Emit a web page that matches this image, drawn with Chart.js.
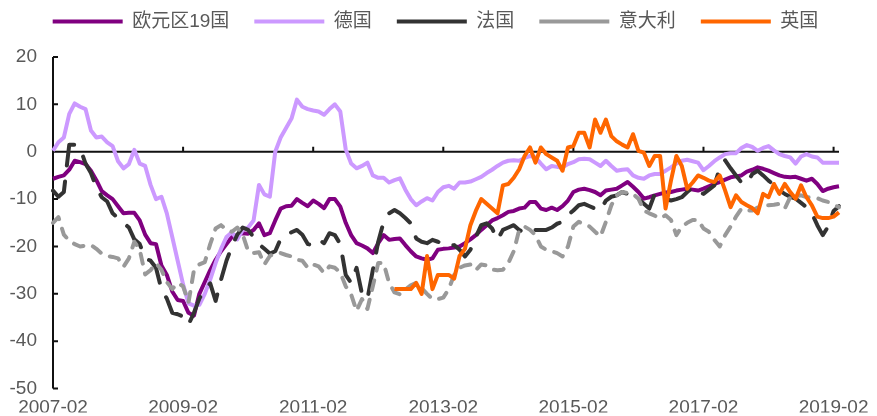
<!DOCTYPE html>
<html>
<head>
<meta charset="utf-8">
<script src="https://cdn.jsdelivr.net/npm/chart.js@4/dist/chart.umd.min.js"></script>
<style>
  html, body { margin: 0; padding: 0; background: #fff; }
  #wrap { width: 877px; height: 416px; }
</style>
</head>
<body>
<div id="wrap"><canvas id="chart"></canvas></div>
<script>
// 月份 2007-02 ~ 2019-03
const months = [];
for (let yr = 2007; yr <= 2019; yr++) {
  for (let m = 1; m <= 12; m++) {
    if ((yr === 2007 && m < 2) || (yr === 2019 && m > 3)) continue;
    months.push(yr + '-' + String(m).padStart(2, '0'));
  }
}

const tickLabels = ['2007-02', '2009-02', '2011-02', '2013-02', '2015-02', '2017-02', '2019-02'];
const yTicks = [20, 10, 0, -10, -20, -30, -40, -50];

const euro19 = [
  -5.7, -5.3, -5, -3.8, -1.9, -2.2, -2.6, -4, -6, -8.3,
  -9.2, -10, -11.5, -13, -12.9, -12.9, -14.5, -17.5, -19.3, -19.5,
  -24, -26, -29.5, -31.3, -31.5, -34, -34.6, -30, -27.5, -25,
  -22.8, -21, -19.5, -18, -17.6, -17.2, -17.3, -16.5, -15.1, -17.6,
  -17.2, -14.5, -12, -11.5, -11.4, -10, -10.8, -11.5, -10.3, -11,
  -11.9, -10, -10, -11.6, -15, -17.6, -19.3, -19.8, -20.4, -21.4,
  -19.3, -17.6, -18.6, -18.4, -18.3, -19.7, -21, -22.1, -22.5, -22.8,
  -22.5, -20.7, -20.5, -20.4, -20.2, -20, -19.3, -18.5, -17.6, -16.5,
  -15.5, -14.5, -14, -13.4, -12.7, -12.5, -12, -11.8, -10.6, -10.6,
  -12, -12.3, -11.8, -12.3, -11.5, -10.3, -8.5, -8, -7.8, -8.1,
  -8.5, -9.2, -8.2, -8, -7.8, -7.1, -6.4, -7.4, -8.5, -9.9,
  -9.6, -9.2, -8.9, -8.6, -8.5, -8.2, -8, -7.8, -8, -8.2,
  -7.8, -7.3, -6.8, -6.4, -5.9, -5.4, -5.2, -5, -4.2, -3.8,
  -3.3, -3.6, -4, -4.5, -5, -5.3, -5.4, -5.3, -5.7, -6.1,
  -5.7, -6.8, -8.3, -7.8, -7.5, -7.3
];

const germany = [
  0.2, 2, 3, 8, 10.2, 9.5, 9, 4.5, 3, 3.2,
  2, 1.2, -2, -3.5, -2.6, 0.4, -2.5, -3, -7, -10,
  -9.5, -13, -18, -23, -28, -32, -32.5, -32.3, -30, -27,
  -23.5, -20.5, -18, -17, -18.5, -16.5, -16, -14.5, -7, -9,
  -9.5, 0, 3, 5, 7, 11, 9.5, 9, 8.7, 8.5,
  7.8, 9, 10, 8.5, 0.5, -2.5, -3.5, -3, -2.3, -5,
  -5.5, -5.5, -6.5, -6, -5.6, -8, -10, -11.3, -10.5, -9.8,
  -10.3, -8.5, -7.5, -7.2, -7.8, -6.5, -6.5, -6.3, -5.8, -5.3,
  -4.5, -3.8, -3, -2.3, -1.9, -1.8, -1.9, -1.3, -0.9, -1.2,
  -2.5, -3.7, -3, -3.2, -3.3, -2.6, -2.2, -1.6, -1.5, -1.6,
  -2.3, -3, -1.9, -3, -4, -3.8, -3.7, -5, -5.5, -5.7,
  -5, -4.7, -4.7, -4, -3.3, -2.5, -1.9, -1.7, -2, -2.3,
  -3.9, -3, -2, -1.2, -0.5, -0.3, -0.3, 0.8, 1.4, 1,
  0.2, 0.8, 1.2, 0.3, -0.5, -0.9, -1.2, -2.5, -1, -0.5,
  -1, -1.2, -2.3, -2.3, -2.3, -2.3
];

const france = [
  -8.2, -9.5, -8.5, 1.5, 1.5, 0.8, -2.5, -4.5, -7.5, -9.6,
  -10.5, -13, -14, -15, -16, -18.5, -19.5, -22.5, -23, -24.5,
  -29, -31, -34, -34.3, -34.8, -36.5, -34, -31, -29, -27.8,
  -31.5, -27, -23, -20, -17.5, -16, -16.5, -18, -19.5, -20.5,
  -21.5, -21, -18.4, -17.6, -17, -16.5, -17.5, -19.5, -19.7, -18.6,
  -19.3, -17.2, -17.6, -19.5, -26, -27.7, -24.5, -30, -31.1, -25,
  -19, -14.8, -13, -12.3, -13, -14, -15.1, -18.3, -19, -19.3,
  -18.6, -19, -19.5, -20, -19.7, -20.7, -22.1, -20.7, -18, -15.5,
  -15.1, -16.2, -18.6, -16.5, -16, -15.5, -16.5, -17.2, -16.8, -16.5,
  -16.5, -16.5, -16, -15.2, -14.8, -13.4, -12.4, -11.3, -11, -11.5,
  -12, -12.4, -10.3, -9.5, -9.2, -8.5, -8.9, -8.9, -10, -11,
  -12, -8.9, -9.2, -10, -10.3, -10, -9.6, -8.5, -7.5, -8.2,
  -8.9, -8, -7.1, -3.5, -1.8, -3.5, -5, -6.5, -6.8, -4.7,
  -4, -5, -6.1, -7, -8.2, -8.9, -9.5, -9.9, -10.8, -11.7,
  -13, -15.5, -17.6, -15.8, -12.5, -11.5
];

const italy = [
  -15, -13.8, -17.5, -18.8, -19.5, -20, -19.8, -19.7, -20.5, -21.5,
  -22, -22.2, -22.5, -24.3, -22.5, -19, -20.7, -25.9, -25, -23.5,
  -24.9, -27.5, -29, -27.7, -28.4, -31.8, -25, -23.8, -23.3, -19.5,
  -16.2, -15.5, -16.5, -16.9, -16, -17.5, -21, -21.4, -21.2, -23.8,
  -22, -21.4, -21.4, -21.8, -22.1, -22.8, -23, -24.5, -23.8, -24.2,
  -25.6, -24.2, -24.5, -25.5, -28.4, -30.1, -33.6, -31.1, -33.2, -28.4,
  -23.5, -23.5, -27.7, -29.7, -30.1, -29.1, -28.2, -27.7, -28.8, -30,
  -31.1, -31.1, -30.8, -29, -26, -24.5, -24, -23.8, -25, -23.8,
  -24, -24.9, -25, -24.9, -23.5, -21, -16.5, -15.8, -16.5, -17.6,
  -20, -20.7, -21, -21.4, -22.1, -20, -15.8, -14.8, -15.3, -15.8,
  -16.9, -17.9, -14.8, -11.3, -9.2, -8.5, -8.7, -8.9, -9.9, -12.4,
  -13, -13.5, -14.1, -13.4, -14.4, -17.6, -15.8, -15, -14.4, -14.4,
  -16.2, -16.9, -18.6, -20, -17.6, -15.8, -13.7, -12, -12.4, -12.4,
  -11.8, -11.3, -11.3, -11.2, -11, -12, -9.6, -9.4, -9.2, -9.6,
  -9.6, -9.8, -10.3, -10.6, -11.2, -11.7
];

const uk = [
  null, null, null, null, null, null, null, null, null, null,
  null, null, null, null, null, null, null, null, null, null,
  null, null, null, null, null, null, null, null, null, null,
  null, null, null, null, null, null, null, null, null, null,
  null, null, null, null, null, null, null, null, null, null,
  null, null, null, null, null, null, null, null, null, null,
  null, null, null, -29, -29, -29, -29, -27.7, -30, -22,
  -29, -26, -26, -26, -26.8, -22, -20.5, -15.5, -12.5, -10,
  -11, -12, -13, -7.1, -6.8, -5.5, -3.7, -0.9, 0.9, -2.3,
  0.9, -0.5, -1.2, -1.9, -4, 0.9, 1.2, 4, 4, 0.9,
  6.8, 4, 6.8, 3.3, 2.2, 1.5, 0.9, 3.7, 0.2, -0.2,
  -3, -0.9, -0.9, -12, -6.1, -0.9, -3, -7.8, -6.5, -5,
  -5.5, -6.1, -6.4, -5, -8.2, -11.7, -9.2, -10.6, -11.3, -11.9,
  -13, -8.9, -9.6, -6.8, -8.9, -6.8, -8.5, -9.9, -7.1, -9.6,
  -11.3, -13.7, -14, -14, -13.7, -12.8
];

// 图例下方留白、居中；y轴、零轴和刻度线
const axisMarks = {
  id: 'axisMarks',
  afterInit(chart) {
    const fit = chart.legend.fit;
    chart.legend.fit = function () {
      fit.call(this);
      this.height += 16;
    };
  },
  afterLayout(chart) {
    chart.legend.left += 13;
    chart.legend.right += 13;
  },
  beforeDatasetsDraw(chart) {
    const ctx = chart.ctx;
    const area = chart.chartArea;
    const xs = chart.scales.x;
    const ys = chart.scales.y;
    const y0 = ys.getPixelForValue(0);
    ctx.save();
    ctx.setLineDash([]);
    ctx.strokeStyle = '#111111';
    ctx.lineWidth = 2;
    ctx.beginPath();
    ctx.moveTo(area.left, ys.getPixelForValue(20));
    ctx.lineTo(area.left, ys.getPixelForValue(-50));
    ctx.moveTo(area.left, y0);
    ctx.lineTo(area.right, y0);
    for (let i = 1; i < months.length; i++) {
      if (tickLabels.indexOf(months[i]) >= 0) {
        const px = xs.getPixelForValue(i);
        ctx.moveTo(px, y0);
        ctx.lineTo(px, y0 - 5);
      }
    }
    for (const v of yTicks) {
      const py = ys.getPixelForValue(v);
      ctx.moveTo(area.left, py);
      ctx.lineTo(area.left + 5, py);
    }
    ctx.stroke();
    ctx.restore();
  }
};

const lineBase = {
  pointRadius: 0,
  pointHoverRadius: 0,
  borderWidth: 4,
  tension: 0,
  fill: false,
  borderJoinStyle: 'round',
  spanGaps: false
};

new Chart(document.getElementById('chart'), {
  type: 'line',
  data: {
    labels: months,
    datasets: [
      { ...lineBase, label: '欧元区19国', data: euro19, borderColor: '#800080', backgroundColor: '#800080', order: 5 },
      { ...lineBase, label: '德国', data: germany, borderColor: '#CC99FF', backgroundColor: '#CC99FF', order: 4 },
      { ...lineBase, label: '法国', data: france, borderColor: '#333333', backgroundColor: '#333333', borderDash: [26, 16], borderCapStyle: 'round', order: 3 },
      { ...lineBase, label: '意大利', data: italy, borderColor: '#999999', backgroundColor: '#999999', borderDash: [10, 10], borderCapStyle: 'round', order: 2 },
      { ...lineBase, label: '英国', data: uk, borderColor: '#FF6600', backgroundColor: '#FF6600', order: 1 }
    ]
  },
  options: {
    responsive: true,
    maintainAspectRatio: false,
    animation: false,
    layout: { padding: { left: 6, right: 38, top: -13, bottom: 0 } },
    plugins: {
      tooltip: { enabled: false },
      legend: {
        position: 'top',
        labels: {
          usePointStyle: true,
          pointStyle: 'line',
          pointStyleWidth: 70,
          padding: 25,
          color: '#595959',
          font: { family: '"Liberation Sans", "Noto Sans CJK SC", sans-serif', size: 19 },
          sort: (a, b) => a.datasetIndex - b.datasetIndex
        }
      }
    },
    scales: {
      x: {
        grid: { display: false, drawTicks: false },
        border: { display: false },
        afterFit: (scale) => { scale.height = 24; },
        ticks: {
          autoSkip: false,
          maxRotation: 0,
          padding: 8,
          color: '#595959',
          font: { family: '"Liberation Sans", Arial, sans-serif', size: 19 },
          callback: (v, i) => tickLabels.includes(months[i]) ? months[i] : null
        }
      },
      y: {
        min: -50,
        max: 20,
        grid: { display: false, drawTicks: false },
        border: { display: false },
        afterFit: (scale) => { scale.width = 47; },
        ticks: {
          stepSize: 10,
          padding: 16,
          color: '#595959',
          font: { family: '"Liberation Sans", Arial, sans-serif', size: 19 }
        }
      }
    }
  },
  plugins: [axisMarks]
});
</script>
</body>
</html>
